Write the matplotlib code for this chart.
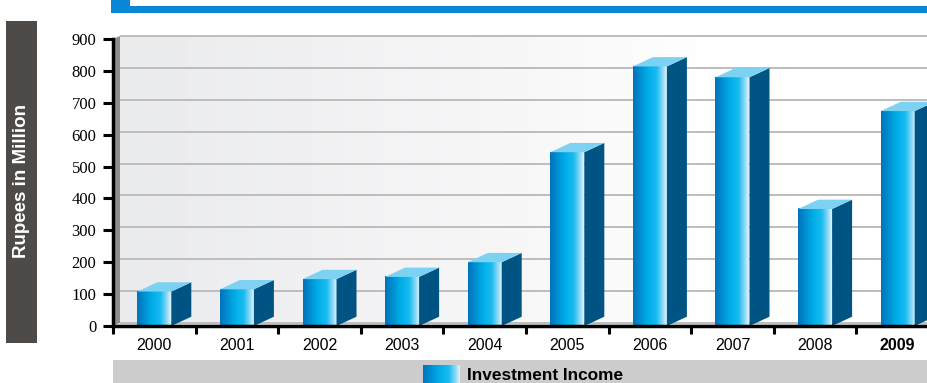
import numpy as np
import matplotlib
matplotlib.use("Agg")
import matplotlib.pyplot as plt
from matplotlib.colors import LinearSegmentedColormap
from matplotlib.patches import Polygon, Rectangle

plt.rcParams['font.family'] = ['Liberation Sans', 'DejaVu Sans']

# Investment income, Rupees in Million
years = ['2000', '2001', '2002', '2003', '2004', '2005', '2006', '2007', '2008', '2009']
income = [108, 115, 147, 154, 200, 545, 814, 780, 367, 674]
y_ticks = [0, 100, 200, 300, 400, 500, 600, 700, 800, 900]
series_name = 'Investment Income'
axis_label = 'Rupees in Million'

W, H = 928, 383
fig = plt.figure(figsize=(W / 100, H / 100), dpi=100)
fig.patch.set_facecolor('white')

# pseudo-3d geometry (pixel sizes converted to data units below)
px_per_cat = 82.6
px_per_unit = 287 / 900.0
bar_w = 34 / px_per_cat
dx_bar, dy_bar = 20 / px_per_cat, 9.3 / px_per_unit
dx_wall, dy_wall = 7 / px_per_cat, 3 / px_per_unit
ytop = 920

ax = fig.add_axes([113 / W, 57 / H, 10 * px_per_cat / W, ytop * px_per_unit / H])
ax.set_xlim(-0.5, 9.5)
ax.set_ylim(0, ytop)
ax.patch.set_alpha(0)

face_cmap = LinearSegmentedColormap.from_list(
    'face', [(0.0, '#0072bb'), (0.45, '#00aee9'), (0.7, '#19bcef'),
             (0.88, '#8fd8f5'), (1.0, '#e2f5fd')])
wall_cmap = LinearSegmentedColormap.from_list(
    'wall', [(0.0, '#eaebed'), (0.45, '#f7f7f8'), (0.7, '#ffffff'), (1.0, '#ffffff')])
grad = np.linspace(0, 1, 256)[None, :]

# back wall, left wall and floor
xr = 9.5 + dx_bar + 0.2
ax.imshow(grad, cmap=wall_cmap, extent=[-0.5 + dx_wall, xr, dy_wall, 900 + dy_wall],
          aspect='auto', zorder=0, interpolation='bilinear')
ax.add_patch(Polygon([(-0.5, 0), (-0.5 + dx_wall, dy_wall), (-0.5 + dx_wall, 900 + dy_wall),
                      (-0.5, 900)], closed=True, facecolor='#8e8e8e', edgecolor='none', zorder=1))
ax.add_patch(Polygon([(-0.5, 0), (xr, 0), (xr, dy_wall), (-0.5 + dx_wall, dy_wall)],
                     closed=True, facecolor='#e2e2e2', edgecolor='none', zorder=1))
ax.hlines([t + dy_wall for t in y_ticks], -0.5 + dx_wall, xr, colors='#bdbdbd',
          linewidth=1.4, zorder=1)

# bars: front face with gradient, dark side, light top
for i, v in enumerate(income):
    x0, x1 = i - bar_w / 2, i + bar_w / 2
    ax.imshow(grad, cmap=face_cmap, extent=[x0, x1, 0, v], aspect='auto',
              zorder=3, interpolation='bilinear')
    ax.add_patch(Polygon([(x1, 0), (x1 + dx_bar, dy_bar), (x1 + dx_bar, v + dy_bar), (x1, v)],
                         closed=True, facecolor='#005483', edgecolor='none', zorder=3))
    ax.add_patch(Polygon([(x0, v), (x1, v), (x1 + dx_bar, v + dy_bar), (x0 + dx_bar, v + dy_bar)],
                         closed=True, facecolor='#7dd2f4', edgecolor='none', zorder=3))

ax.set_xlim(-0.5, 9.5)
ax.set_ylim(0, ytop)

for s in ['top', 'right']:
    ax.spines[s].set_visible(False)
for s in ['left', 'bottom']:
    ax.spines[s].set_linewidth(2.5)
    ax.spines[s].set_color('black')
    ax.spines[s].set_zorder(5)
ax.spines['left'].set_bounds(0, 900)

ax.set_yticks(y_ticks)
ax.set_yticklabels([str(t) for t in y_ticks], family='Liberation Serif', fontsize=12)
ax.tick_params(axis='y', length=7, width=2.2, pad=5, direction='out')

ax.set_xticks(range(len(years)))
ax.set_xticklabels(years, fontsize=11.5)
ax.set_xticks(np.arange(-0.5, 10, 1), minor=True)
ax.tick_params(axis='x', which='major', length=0, pad=9)
ax.tick_params(axis='x', which='minor', length=6, width=2.2, direction='out')
ax.get_xticklabels()[-1].set_fontweight('bold')

# header band
fig.patches.append(Rectangle((111 / W, (H - 13) / H), (W - 111) / W, 13 / H,
                             transform=fig.transFigure, facecolor='#0a86d6', edgecolor='none'))
fig.patches.append(Rectangle((130 / W, (H - 6) / H), (W - 130) / W, 6 / H,
                             transform=fig.transFigure, facecolor='white', edgecolor='none'))

# axis label box
fig.patches.append(Rectangle((6 / W, 40 / H), 31 / W, 322 / H, transform=fig.transFigure,
                             facecolor='#4e4a48', edgecolor='none'))
fig.text(22 / W, (H - 181) / H, axis_label, rotation=90, color='white', fontsize=13.5,
         fontweight='bold', ha='center', va='center')

# legend band with gradient swatch
fig.patches.append(Rectangle((113 / W, 0), (W - 113) / W, 23 / H, transform=fig.transFigure,
                             facecolor='#cccccc', edgecolor='none'))
sw = fig.add_axes([423 / W, 0, 37 / W, 18 / H])
sw.imshow(grad, cmap=face_cmap, aspect='auto', interpolation='bilinear')
sw.axis('off')
sw.set_zorder(5)
fig.text(467 / W, (H - 376) / H, series_name, fontsize=12.4, fontweight='bold',
         ha='left', va='center')

fig.savefig('out.png', dpi=100)
